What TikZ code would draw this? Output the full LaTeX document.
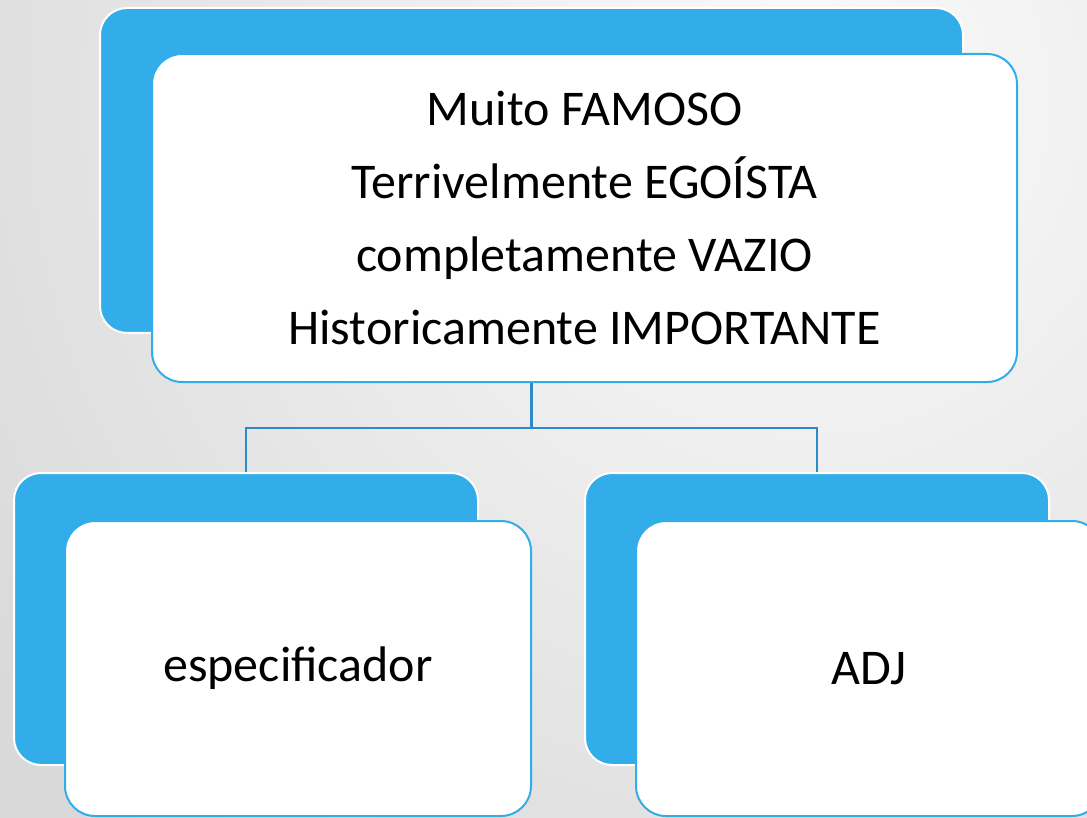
\documentclass[tikz,border=0pt]{standalone}
\usepackage{fontspec}
\setmainfont{Carlito}
\usetikzlibrary{positioning}
\definecolor{boxblue}{HTML}{32ADEA}
\definecolor{linkblue}{HTML}{2E8AC6}

\begin{document}
\begin{tikzpicture}[
    x=1pt, y=-1pt, font=\fontsize{50}{73}\selectfont,
    back/.style={
      rectangle,
      rounded corners=27pt,
      draw=white,
      line width=2pt,
      fill=boxblue,
      inner sep=0pt
    },
    front/.style={
      rectangle,
      rounded corners=30pt,
      draw=boxblue,
      line width=2pt,
      fill=white,
      align=center,
      inner sep=0pt
    },
    link/.style={
      draw=linkblue,
      line width=2.5pt
    }
  ]

  % Background
  \useasboundingbox (0,0) rectangle (1087,818);
  \clip (0,0) rectangle (1087,818);
  \shade[inner color=gray!3, outer color=gray!30] (-200,-900) rectangle (1800,1100);

  % Top
  \node[back, minimum width=863pt, minimum height=325pt] (topback) at (531.5,170.5) {};
  \node[front, minimum width=865pt, minimum height=328pt] (top) at (584.5,218)
    {Muito FAMOSO\\Terrivelmente EGOÍSTA\\completamente VAZIO\\Historicamente IMPORTANTE};

  % Left
  \node[back, minimum width=464pt, minimum height=292pt] (leftback) at (246,619) {};
  \node[front, minimum width=466pt, minimum height=295pt] (left) at (298,668.5) {especificador};

  % Right
  \node[back, minimum width=464pt, minimum height=292pt] (rightback) at (817,619) {};
  \node[front, minimum width=466pt, minimum height=295pt] (right) at (869,668.5) {ADJ};

  % Links
  \coordinate (fork) at (531.5,428);
  \draw[link] (topback.south |- top.south) -- (fork);
  \draw[link] (fork) -| (leftback.north);
  \draw[link] (fork) -| (rightback.north);

\end{tikzpicture}
\end{document}
